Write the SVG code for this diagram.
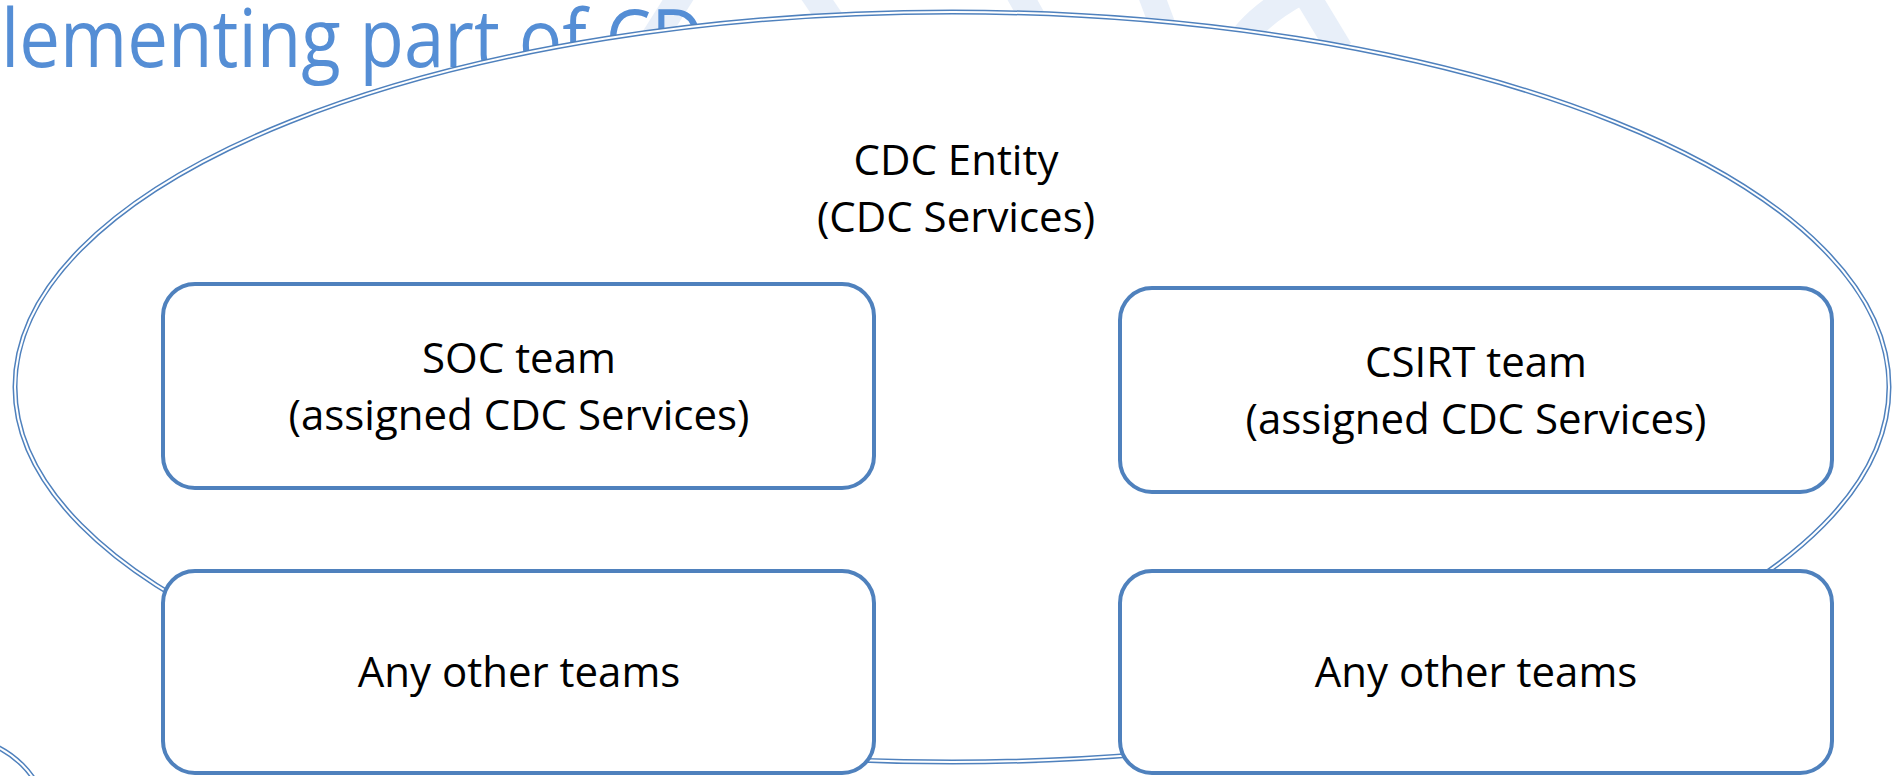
<svg xmlns="http://www.w3.org/2000/svg" width="1893" height="776" viewBox="0 0 1893 776">
  <style>
    .box { fill: #ffffff; stroke: #4F81BD; stroke-width: 4; }
    .lbl { font-family: "Open Sans", "Noto Sans", "Liberation Sans", sans-serif; font-size: 42px; fill: #000000; text-anchor: middle; }
    .title { font-family: "Open Sans", "Noto Sans", "Liberation Sans", sans-serif; font-size: 80px; fill: #558ED5; }
    .wm { fill: none; stroke: #E8EFF9; stroke-width: 26; stroke-linecap: butt; }
    .dblOuter { fill: none; stroke: #4F81BD; stroke-width: 5; }
    .dblInner { fill: none; stroke: #ffffff; stroke-width: 2; }
    .filled { fill: #ffffff; stroke: #4F81BD; stroke-width: 5; }
  </style>
  <rect width="1893" height="776" fill="#ffffff"/>
  <g id="watermark">
    <path class="wm" d="M683,-8 L640,60"/>
    <path class="wm" d="M812,-8 L848,45"/>
    <path class="wm" d="M1018,-8 L1045,40"/>
    <path class="wm" d="M1150,-8 L1168,40"/>
    <path class="wm" d="M1300,-8 Q1250,20 1235,50"/>
    <path class="wm" d="M1305,-8 L1340,50"/>
  </g>
  <g id="title">
    <text class="title" x="1" y="67" textLength="703" lengthAdjust="spacingAndGlyphs">lementing part of CD</text>
  </g>
  <g id="corner-circle">
    <circle class="dblOuter" cx="-45" cy="832" r="95"/>
    <circle class="dblInner" cx="-45" cy="832" r="95"/>
  </g>
  <g id="cdc-entity">
    <ellipse class="filled" cx="952" cy="387" rx="937" ry="375"/>
    <ellipse class="dblInner" cx="952" cy="387" rx="937" ry="375"/>
    <text class="lbl" x="956" y="175">CDC Entity</text>
    <text class="lbl" x="956" y="232">(CDC Services)</text>
  </g>
  <g id="soc-team">
    <rect class="box" x="163" y="284" width="711" height="204" rx="32" ry="32"/>
    <text class="lbl" x="519" y="373">SOC team</text>
    <text class="lbl" x="519" y="430">(assigned CDC Services)</text>
  </g>
  <g id="csirt-team">
    <rect class="box" x="1120" y="288" width="712" height="204" rx="32" ry="32"/>
    <text class="lbl" x="1476" y="377">CSIRT team</text>
    <text class="lbl" x="1476" y="434">(assigned CDC Services)</text>
  </g>
  <g id="other-teams-left">
    <rect class="box" x="163" y="571" width="711" height="202" rx="32" ry="32"/>
    <text class="lbl" x="519" y="687">Any other teams</text>
  </g>
  <g id="other-teams-right">
    <rect class="box" x="1120" y="571" width="712" height="202" rx="32" ry="32"/>
    <text class="lbl" x="1476" y="687">Any other teams</text>
  </g>
  <g id="connectors"/>
</svg>
